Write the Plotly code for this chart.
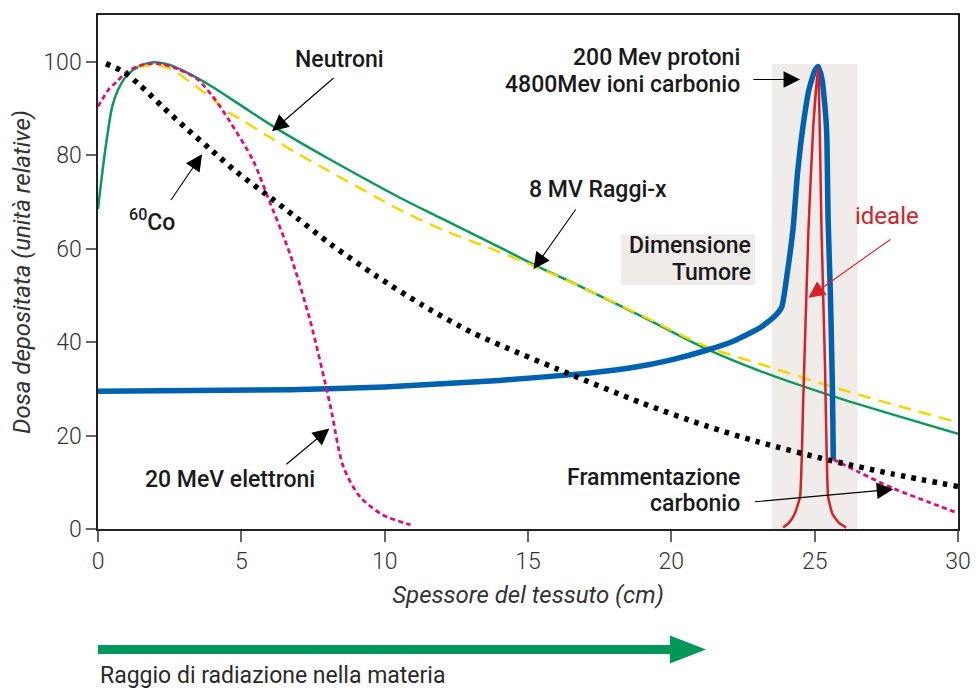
import plotly.graph_objects as go

# ---------------- data ----------------
neutron_x = [0, 0.25, 0.5, 0.7, 1.0, 1.5, 1.95, 2.5, 3.0, 3.5, 4.0, 5.0, 6.0, 7.0, 8.0, 10.5, 12, 14, 15.2, 17, 19, 21.2, 23.1, 25.9, 28, 30]
neutron_y = [68.5, 81, 90.5, 94.0, 97.0, 99.2, 99.9, 99.3, 98.0, 96.4, 94.6, 90.6, 86.6, 82.9, 79.4, 71.0, 66.4, 60.3, 56.6, 51.4, 45.4, 38.6, 33.8, 27.9, 24.0, 20.4]

xray_x = [1.4, 2.0, 2.5, 3.2, 4.0, 4.6, 5.0, 6.0, 7.0, 8.0, 10.5, 12, 14, 15.2, 17, 19, 21.2, 23.1, 25.9, 28, 30]
xray_y = [98.8, 99.3, 98.6, 95.7, 92.0, 89.0, 87.6, 83.8, 80.2, 76.8, 68.4, 64.1, 59.3, 56.3, 51.4, 45.6, 39.1, 35.3, 29.9, 26.2, 22.8]

cobalt_x = [0.28, 0.9, 1.46, 2.28, 3.12, 3.97, 4.84, 5.76, 6.93, 8.15, 9.72, 11.35, 13.03, 14.2, 16, 19, 21.2, 23, 25.53, 27.7, 30]
cobalt_y = [99.6, 97.8, 95.0, 90.2, 85.5, 81.0, 76.4, 72.1, 66.6, 60.8, 54.1, 47.8, 42.1, 38.9, 34.3, 26.9, 22.1, 18.7, 14.7, 11.8, 9.1]

electron_x = [0, 0.4, 0.65, 1.0, 1.58, 2.2, 2.8, 3.44, 4.0, 4.6, 5.4, 5.9, 6.7, 7.4, 8.1, 8.56, 9.14, 9.94, 10.9]
electron_y = [90.4, 94.3, 95.7, 97.8, 99.4, 99.5, 98.4, 96.4, 92.6, 87.2, 79.0, 71.4, 58.8, 44.6, 26.5, 13.3, 6.9, 3.0, 0.9]

frag_x = [25.65, 26.5, 27.74, 29, 30]
frag_y = [14.9, 12.3, 8.7, 5.7, 3.4]

proton_x = [0, 6.7, 10, 14, 17, 18.7, 20, 21.2, 22.2, 23.1, 23.6, 23.85, 24.05, 24.25, 24.4, 24.6, 24.8, 25.0, 25.12, 25.25, 25.35, 25.42, 25.47, 25.55, 25.62, 25.65]
proton_y = [29.5, 29.8, 30.4, 31.8, 33.3, 34.6, 36.2, 38.2, 40.3, 43.1, 45.5, 47.5, 55.0, 64.5, 76.0, 86.5, 94.0, 98.0, 99.0, 96.5, 91.0, 84.9, 66.0, 50.0, 30.0, 15.0]

ideal_x = [23.9, 24.1, 24.3, 24.49, 24.6, 24.78, 24.95, 25.12, 25.24, 25.36, 25.47, 25.62, 25.85, 26.1]
ideal_y = [0.3, 1.3, 3.2, 6.9, 27.4, 63.6, 86.0, 98.7, 63.6, 35.0, 6.9, 3.2, 1.3, 0.3]

tumor_x = [23.5, 26.5]
tumor_top = 99.5

x_ticks = [0, 5, 10, 15, 20, 25, 30]
y_ticks = [0, 20, 40, 60, 80, 100]

# ---------------- style ----------------
FONT = "Roboto"
GREEN = "#0a9a5c"
YELLOW = "#f4d800"
PINK = "#e5097f"
BLUE = "#0062ae"
RED = "#d7202a"
BAND = "#efecea"
TXT = "#1a1a1a"

fig = go.Figure()

fig.add_shape(type="rect", x0=tumor_x[0], x1=tumor_x[1], y0=0, y1=tumor_top,
              fillcolor=BAND, line_width=0, layer="below")
# background box of the "Dimensione Tumore" label
fig.add_shape(type="rect", x0=18.24, x1=22.92, y0=52.2, y1=63.1,
              fillcolor=BAND, line_width=0, layer="below")

fig.add_trace(go.Scatter(x=neutron_x, y=neutron_y, mode="lines",
                         line=dict(color=GREEN, width=2.5, shape="spline", smoothing=0.8)))
fig.add_trace(go.Scatter(x=xray_x, y=xray_y, mode="lines",
                         line=dict(color=YELLOW, width=2.5, dash="13px,8px", shape="spline", smoothing=0.8)))
fig.add_trace(go.Scatter(x=proton_x, y=proton_y, mode="lines",
                         line=dict(color=BLUE, width=5.5, shape="spline", smoothing=0.5)))
fig.add_trace(go.Scatter(x=ideal_x, y=ideal_y, mode="lines",
                         line=dict(color=RED, width=2.5, shape="spline", smoothing=0.4)))
fig.add_trace(go.Scatter(x=electron_x, y=electron_y, mode="lines",
                         line=dict(color=PINK, width=2.8, dash="5px,3.5px", shape="spline", smoothing=0.8)))
fig.add_trace(go.Scatter(x=frag_x, y=frag_y, mode="lines",
                         line=dict(color=PINK, width=2.8, dash="5px,3.5px", shape="spline", smoothing=0.8)))
fig.add_trace(go.Scatter(x=cobalt_x, y=cobalt_y, mode="lines",
                         line=dict(color="black", width=5.5, dash="4.5px,6.2px", shape="spline", smoothing=0.8)))


def arrow(tip, tail, color="black"):
    fig.add_annotation(x=tip[0], y=tip[1], ax=tail[0], ay=tail[1], axref="x", ayref="y",
                       xref="x", yref="y", text="", showarrow=True, arrowhead=2,
                       arrowsize=3.0, arrowwidth=1.1, arrowcolor=color)


def label(x, y, text, xanchor="center", color=TXT, size=23, weight=500):
    fig.add_annotation(x=x, y=y, xref="x", yref="y", text=text, showarrow=False,
                       xanchor=xanchor, yanchor="middle",
                       font=dict(family=FONT, size=size, color=color, weight=weight))


label(8.44, 100.4, "Neutroni")
arrow((6.07, 85.1), (8.27, 96.8))

label(22.47, 100.8, "200 Mev protoni", xanchor="right")
label(22.47, 95.2, "4800Mev ioni carbonio", xanchor="right")
arrow((24.49, 96.2), (22.81, 96.2))

label(1.88, 66.1, "<sup>60</sup>Co")
arrow((3.63, 80.2), (2.51, 70.1))

label(17.44, 72.7, "8 MV Raggi-x")
arrow((15.19, 55.6), (16.7, 68.7))

label(27.52, 67.0, "ideale", color=RED, size=24, weight=400)
arrow((24.78, 49.5), (27.69, 62.2), color=RED)

label(22.85, 60.6, "Dimensione", xanchor="right")
label(22.85, 54.9, "Tumore", xanchor="right")

label(4.6, 10.7, "20 MeV elettroni")
arrow((8.07, 21.5), (6.52, 13.6))

label(22.47, 11.1, "Frammentazione", xanchor="right")
label(22.47, 5.4, "carbonio", xanchor="right")
arrow((27.74, 8.5), (22.86, 5.8))

# bottom beam arrow (decorative)
fig.add_shape(type="line", xref="paper", yref="paper", x0=0, x1=0.668, y0=-0.2345, y1=-0.2345,
              line=dict(color="#00975a", width=9))
fig.add_shape(type="path", xref="paper", yref="paper",
              path="M 0.665 -0.2074 L 0.707 -0.2345 L 0.665 -0.2616 Z",
              fillcolor="#00975a", line_width=0)
fig.add_annotation(xref="paper", yref="paper", x=0, y=-0.285, xanchor="left", yanchor="middle",
                   text="Raggio di radiazione nella materia", showarrow=False,
                   font=dict(family=FONT, size=23, color="#2a2a2a"))

# the page body has an 8px margin; offset margins so the plot lands where the reference has it
fig.update_layout(
    width=980, height=688,
    margin=dict(l=90, r=30, t=5, b=167),
    plot_bgcolor="white", paper_bgcolor="white",
    showlegend=False,
    font=dict(family=FONT),
)
fig.update_xaxes(range=[0, 30], tickvals=x_ticks, ticks="outside", ticklen=11, tickwidth=1.5,
                 tickcolor="#666", showline=True, linecolor="#222", linewidth=1.5, mirror=True,
                 showgrid=False, zeroline=False,
                 tickfont=dict(family=FONT, size=23, color="#333", weight=300),
                 title=dict(text="<i>Spessore del tessuto (cm)</i>", standoff=12,
                            font=dict(family=FONT, size=24, color="#333")))
fig.update_yaxes(range=[0, 110], tickvals=y_ticks, ticks="outside", ticklen=10, tickwidth=1.5,
                 tickcolor="#666", showline=True, linecolor="#222", linewidth=1.5, mirror=True,
                 showgrid=False, zeroline=False,
                 tickfont=dict(family=FONT, size=23, color="#333", weight=300),
                 title=dict(text="<i>Dosa depositata (unità relative)</i>", standoff=8,
                            font=dict(family=FONT, size=24, color="#333")))

fig.write_html("out.html")
